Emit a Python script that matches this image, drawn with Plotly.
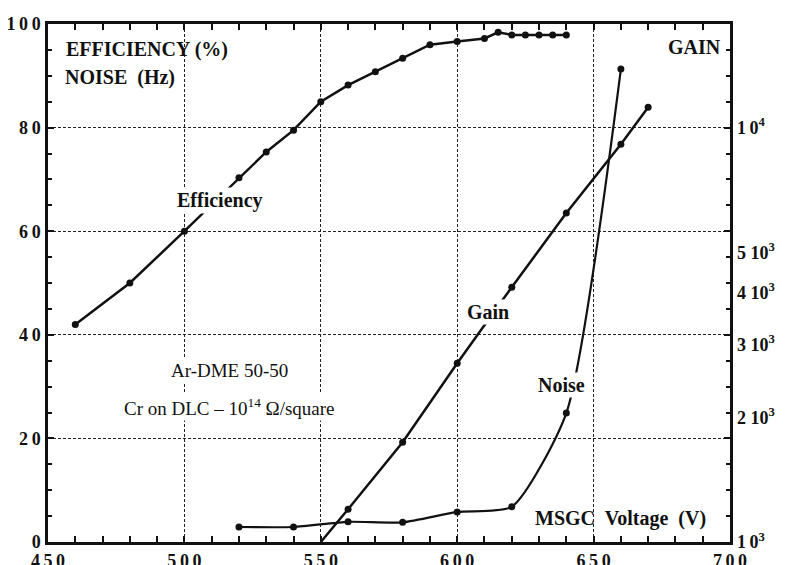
import plotly.graph_objects as go

# ---------------- data ----------------
eff_v = [460, 480, 500, 520, 530, 540, 550, 560, 570, 580, 590, 600, 610, 615, 620, 625, 630, 635, 640]
eff_pct = [42, 50, 60, 70.3, 75.3, 79.5, 85, 88.2, 90.8, 93.4, 96, 96.6, 97.2, 98.4, 97.9, 97.9, 97.9, 97.9, 97.9]

noise_v = [520, 540, 560, 580, 600, 620, 640, 660]
noise_hz = [2.9, 2.9, 3.9, 3.8, 5.8, 6.8, 24.9, 91.3]

# first gain value is where the line leaves the bottom axis (no marker there)
gain_v = [550, 560, 580, 600, 620, 640, 660, 670]
gain = [1000, 1200, 1740, 2700, 4120, 6220, 9120, 11200]

x_ticks = [450, 500, 550, 600, 650, 700]
x_labels = ["4\u20095\u20090", "5\u20090\u20090", "5\u20095\u20090", "6\u20090\u20090", "6\u20095\u20090", "7\u20090\u20090"]
y_ticks = [0, 20, 40, 60, 80, 100]
y_labels = ["0", "2\u20090", "4\u20090", "6\u20090", "8\u20090", "1\u20090\u20090"]
g_ticks = [1000, 2000, 3000, 4000, 5000, 10000]
g_labels = ["1\u20090<sup>3</sup>", "2 10<sup>3</sup>", "3 10<sup>3</sup>", "4 10<sup>3</sup>",
            "5 10<sup>3</sup>", "1\u20090<sup>4</sup>"]

SERIF = "Liberation Serif, Times New Roman, serif"
BLACK = "#111111"

fig = go.Figure()

fig.add_trace(go.Scatter(
    x=eff_v, y=eff_pct, mode="lines+markers", name="Efficiency",
    line=dict(color=BLACK, width=2.5),
    marker=dict(color=BLACK, size=7, symbol="circle"),
    showlegend=False))

fig.add_trace(go.Scatter(
    x=noise_v, y=noise_hz, mode="lines+markers", name="Noise",
    line=dict(color=BLACK, width=2.2, shape="spline", smoothing=0.6),
    marker=dict(color=BLACK, size=7, symbol="circle"),
    showlegend=False))

fig.add_trace(go.Scatter(
    x=gain_v, y=gain, mode="lines", name="Gain", yaxis="y2",
    line=dict(color=BLACK, width=2.5),
    showlegend=False))
fig.add_trace(go.Scatter(
    x=gain_v[1:], y=gain[1:], mode="markers", name="Gain points", yaxis="y2",
    marker=dict(color=BLACK, size=7, symbol="circle"),
    showlegend=False))

tickfont = dict(family=SERIF, size=18, color=BLACK, weight="bold")
GRID = "#222222"

# the page body adds an 8px offset, so the figure is sized to the visible window
fig.update_layout(
    width=783, height=557,
    margin=dict(l=40, r=61, t=16, b=23, autoexpand=False),
    paper_bgcolor="white", plot_bgcolor="white",
    xaxis=dict(
        range=[450, 700], tickvals=x_ticks, ticktext=x_labels, automargin=False,
        ticks="inside", ticklen=6, tickwidth=1.5, tickcolor=BLACK,
        minor=dict(dtick=10, ticks="inside", ticklen=4, tickcolor=BLACK, showgrid=False),
        showline=True, linewidth=2.5, linecolor=BLACK, mirror="allticks",
        showgrid=True, gridcolor=GRID, gridwidth=1, griddash="3px,2px",
        tickfont=tickfont, zeroline=False, ticklabelstandoff=1),
    yaxis=dict(
        range=[0, 100], tickvals=y_ticks, ticktext=y_labels, automargin=False,
        ticks="inside", ticklen=6, tickwidth=1.5, tickcolor=BLACK,
        minor=dict(dtick=5, ticks="inside", ticklen=4, tickcolor=BLACK, showgrid=False),
        showline=True, linewidth=2.5, linecolor=BLACK, mirror="allticks",
        showgrid=True, gridcolor=GRID, gridwidth=1, griddash="3px,2px",
        tickfont=tickfont, zeroline=False, ticklabelstandoff=1),
    yaxis2=dict(
        overlaying="y", side="right", type="log", range=[3, 4.25], automargin=False,
        tickvals=g_ticks, ticktext=g_labels, ticks="", showgrid=False,
        showline=False, zeroline=False, tickfont=tickfont, ticklabelstandoff=6),
)

bold = dict(family=SERIF, size=20, color=BLACK, weight="bold")
reg = dict(family=SERIF, size=19, color=BLACK)

annots = [
    dict(text="EFFICIENCY (%)", x=456, y=95, xanchor="left", font=bold),
    dict(text="NOISE  (Hz)", x=455.5, y=89.6, xanchor="left", font=bold, bgcolor="white"),
    dict(text="Efficiency", x=513, y=66, font=bold, bgcolor="white"),
    dict(text="GAIN", x=697.5, y=95.6, xanchor="right", font=bold),
    dict(text="Ar-DME 50-50", x=516.7, y=33.2, font=reg, bgcolor="white"),
    dict(text="Cr on DLC \u2013 10<sup>14</sup> \u03a9/square", x=516.7, y=26, font=reg, bgcolor="white"),
    dict(text="Gain", x=611.3, y=44.4, font=bold, bgcolor="white"),
    dict(text="Noise", x=638.4, y=30.3, font=bold, bgcolor="white"),
    dict(text="MSGC  Voltage  (V)", x=659.7, y=4.6, font=bold),
]
for a in annots:
    fig.add_annotation(xref="x", yref="y", showarrow=False, borderpad=1, **a)

fig.write_html("out.html")
